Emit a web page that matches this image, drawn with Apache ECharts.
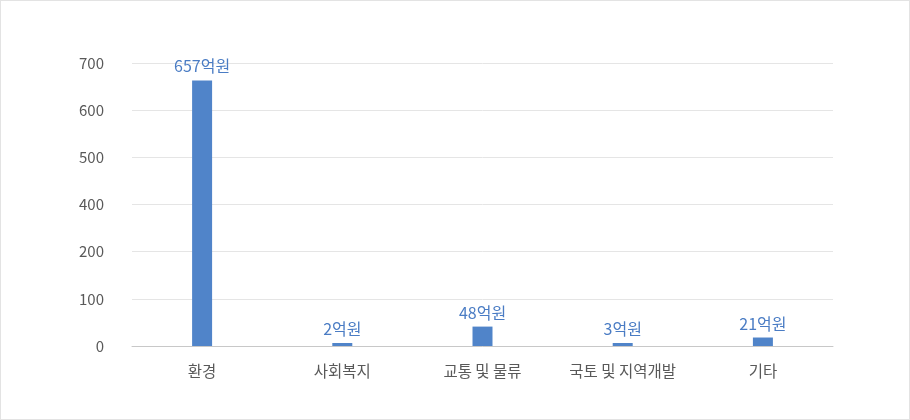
<!DOCTYPE html>
<html><head><meta charset="utf-8">
<script src="https://cdn.jsdelivr.net/npm/echarts@6/dist/echarts.min.js"></script>
<style>
html,body{margin:0;padding:0;background:#fff;}
#c{width:908px;height:418px;border:1px solid #e3e3e3;}
</style></head>
<body><div id="c"></div>
<script>
const categories = ['환경', '사회복지', '교통 및 물류', '국토 및 지역개발', '기타'];
const values = [657, 2, 48, 3, 21];
const tickLabels = ['0', '100', '200', '400', '500', '600', '700'];
const yMax = 700;
const step = yMax / (tickLabels.length - 1);

const chart = echarts.init(document.getElementById('c'));
chart.setOption({
  animation: false,
  textStyle: { fontFamily: 'Noto Sans CJK KR' },
  grid: { left: 131, right: 76, top: 62, bottom: 73, containLabel: false },
  xAxis: {
    type: 'category',
    data: categories,
    axisTick: { show: false },
    axisLine: { lineStyle: { color: '#c8c8c8', width: 1 } },
    axisLabel: { color: '#595959', fontSize: 15.5, margin: 17, interval: 0, hideOverlap: false, fontFamily: 'Noto Sans CJK KR' }
  },
  yAxis: {
    type: 'value',
    min: 0, max: yMax, interval: step,
    axisLine: { show: false },
    axisTick: { show: false },
    splitLine: { lineStyle: { color: '#e5e5e5' } },
    axisLabel: {
      color: '#595959', fontSize: 15, margin: 28, fontFamily: 'Noto Sans CJK KR',
      formatter: v => tickLabels[Math.round(v / step)]
    }
  },
  series: [{
    type: 'bar',
    data: values,
    barWidth: 20,
    barMinHeight: 3,
    itemStyle: { color: '#5084c9' },
    label: {
      show: true, position: 'top', distance: 6,
      color: '#4a7cc4', fontSize: 16, fontFamily: 'Noto Sans CJK KR',
      formatter: p => p.value + '억원'
    }
  }]
});
</script></body></html>
